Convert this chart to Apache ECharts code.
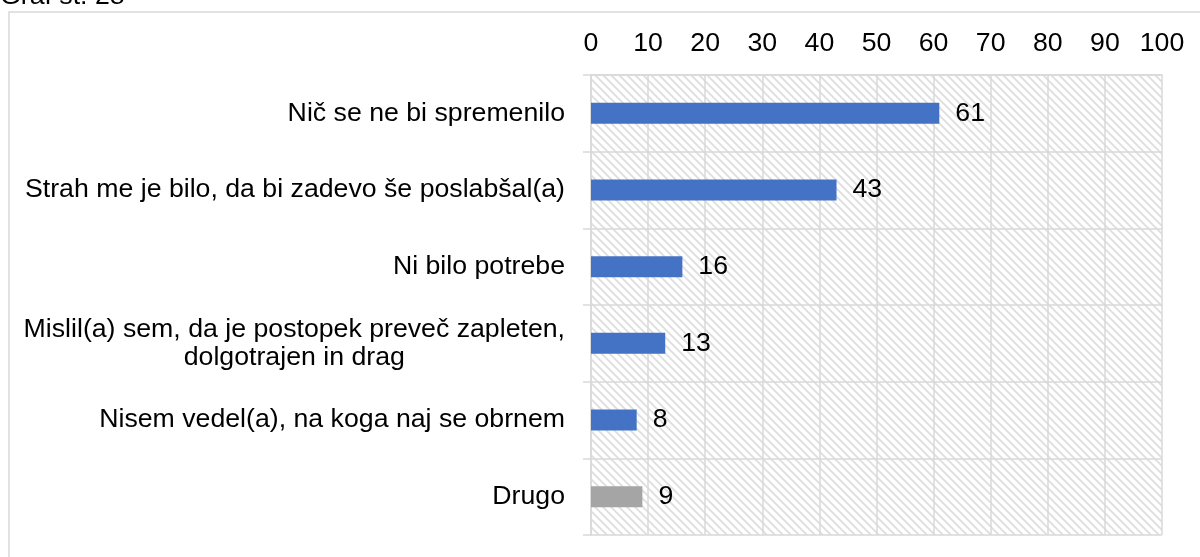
<!DOCTYPE html>
<html>
<head>
<meta charset="utf-8">
<script src="https://cdn.jsdelivr.net/npm/echarts@6/dist/echarts.min.js"></script>
<style>
    html, body { margin: 0; padding: 0; background: #fff; }
    #main { width: 1200px; height: 557px; }
</style>
</head>
<body>
<div id="main"></div>
<script>
// podatki grafa
var categories = [
    'Nič se ne bi spremenilo',
    'Strah me je bilo, da bi zadevo še poslabšal(a)',
    'Ni bilo potrebe',
    'Mislil(a) sem, da je postopek preveč zapleten,\ndolgotrajen in drag',
    'Nisem vedel(a), na koga naj se obrnem',
    'Drugo'
];
var values = [61, 43, 16, 13, 8, 9];
var barColors = ['#4472C4', '#4472C4', '#4472C4', '#4472C4', '#4472C4', '#A5A5A5'];
var xTicks = [0, 10, 20, 30, 40, 50, 60, 70, 80, 90, 100];

var FONT = '"Liberation Sans", Arial, sans-serif';
var FS = 26.7;

// šrafura za ozadje (diagonalne črte)
function makeHatch() {
    var n = 8;
    var c = document.createElement('canvas');
    c.width = n;
    c.height = n;
    var ctx = c.getContext('2d');
    ctx.fillStyle = '#ffffff';
    ctx.fillRect(0, 0, n, n);
    ctx.strokeStyle = '#dedede';
    ctx.lineWidth = 1.8;
    ctx.beginPath();
    ctx.moveTo(-2, -2); ctx.lineTo(n + 2, n + 2);
    ctx.moveTo(-n - 2, -2); ctx.lineTo(2, n + 2);
    ctx.moveTo(-2, -n - 2); ctx.lineTo(n + 2, 2);
    ctx.stroke();
    return c;
}

var chart = echarts.init(document.getElementById('main'));

var seriesData = [];
for (var i = 0; i < values.length; i++) {
    seriesData.push({
        value: values[i],
        itemStyle: { color: barColors[i] }
    });
}

var option = {
    animation: false,
    backgroundColor: '#fff',
    textStyle: { fontFamily: FONT },
    graphic: [{
        type: 'rect',
        shape: { x: 9, y: 12, width: 1250, height: 600 },
        style: { fill: 'none', stroke: '#d9d9d9', lineWidth: 1.5 },
        silent: true
    }, {
        type: 'text',
        left: 0,
        top: -17,
        style: {
            text: 'Graf št. 28',
            fontSize: FS,
            fontFamily: FONT,
            fill: '#000'
        },
        silent: true
    }],
    grid: {
        left: 591,
        right: 38,
        top: 75,
        bottom: 22,
        show: true,
        borderWidth: 0,
        backgroundColor: { image: makeHatch(), repeat: 'repeat' }
    },
    xAxis: {
        type: 'value',
        position: 'top',
        min: 0,
        max: 100,
        interval: 10,
        axisLine: { show: true, lineStyle: { color: '#d9d9d9', width: 1.5 } },
        axisTick: { show: false },
        axisLabel: {
            color: '#000',
            fontSize: FS,
            fontFamily: FONT,
            margin: 18,
            formatter: function (v) {
                return xTicks.indexOf(v) >= 0 ? String(v) : '';
            }
        },
        splitLine: { show: true, lineStyle: { color: '#d9d9d9', width: 1.5 } }
    },
    yAxis: {
        type: 'category',
        inverse: true,
        data: categories,
        axisLine: { show: true, lineStyle: { color: '#d9d9d9', width: 1.5 } },
        axisTick: { show: true, length: 8, lineStyle: { color: '#d9d9d9', width: 1.5 } },
        splitLine: { show: true, lineStyle: { color: '#d9d9d9', width: 1.5 } },
        axisLabel: {
            color: '#000',
            fontSize: FS,
            fontFamily: FONT,
            margin: 26,
            formatter: function (v) {
                if (v.indexOf('\n') < 0) {
                    return v;
                }
                // večvrstična oznaka, vrstice poravnane na sredino
                return v.split('\n').map(function (s) {
                    return '{c|' + s + '}';
                }).join('\n');
            },
            rich: {
                c: {
                    align: 'center',
                    fontSize: FS,
                    lineHeight: 28,
                    color: '#000',
                    fontFamily: FONT
                }
            }
        }
    },
    series: [{
        type: 'bar',
        data: seriesData,
        barWidth: 21,
        label: {
            show: true,
            position: 'right',
            distance: 16,
            color: '#000',
            fontSize: FS,
            fontFamily: FONT
        }
    }]
};

chart.setOption(option);
</script>
</body>
</html>
